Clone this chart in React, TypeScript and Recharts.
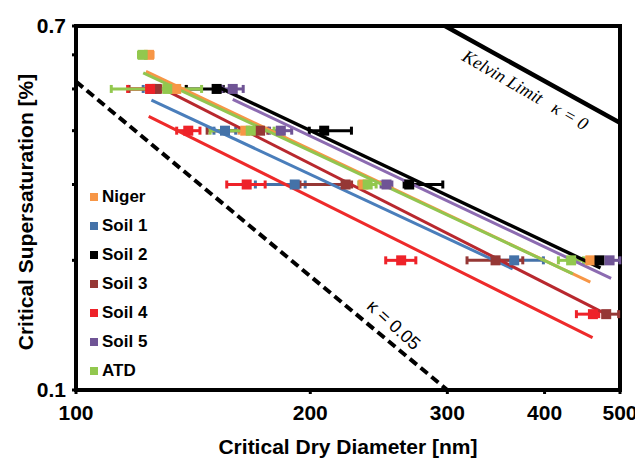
import React from 'react';
import {
  ComposedChart, Scatter, XAxis, YAxis, ErrorBar, ReferenceArea, ReferenceDot, Label,
} from 'recharts';

type Pt = { x: number; y: number; e: [number, number] };

const X_TICKS = [100, 200, 300, 400, 500];
const Y_TICKS = [0.1, 0.2, 0.3, 0.4, 0.5, 0.6, 0.7];
const Y_LABELED = [0.1, 0.7];

const niger: Pt[] = [
  { x: 124.1, y: 0.6, e: [1.5, 1.5] },
  { x: 134.5, y: 0.5, e: [4, 4] },
  { x: 165, y: 0.4, e: [3, 3] },
  { x: 234, y: 0.3, e: [3, 3] },
  { x: 458, y: 0.2, e: [5, 5] },
];
const soil1: Pt[] = [
  { x: 125, y: 0.5, e: [3, 3] },
  { x: 155.4, y: 0.4, e: [5, 5] },
  { x: 191, y: 0.3, e: [21, 6] },
  { x: 365.6, y: 0.2, e: [20, 33] },
];
const soil2: Pt[] = [
  { x: 151.6, y: 0.5, e: [13, 3] },
  { x: 208.4, y: 0.4, e: [9, 17.5] },
  { x: 268, y: 0.3, e: [4, 28] },
  { x: 470.6, y: 0.2, e: [4, 4] },
];
const soil3: Pt[] = [
  { x: 127, y: 0.5, e: [10, 4] },
  { x: 172.4, y: 0.4, e: [25, 4] },
  { x: 222, y: 0.3, e: [28, 4] },
  { x: 346, y: 0.2, e: [28, 29] },
  { x: 480, y: 0.15, e: [4, 18] },
];
const soil4: Pt[] = [
  { x: 124.5, y: 0.5, e: [8, 4] },
  { x: 139.4, y: 0.4, e: [4.7, 4.9] },
  { x: 165.7, y: 0.3, e: [9.5, 9.3] },
  { x: 261.7, y: 0.2, e: [11.7, 11.6] },
  { x: 461.5, y: 0.15, e: [22, 8] },
];
const soil5: Pt[] = [
  { x: 159, y: 0.5, e: [5, 5] },
  { x: 183.3, y: 0.4, e: [6, 6] },
  { x: 250.6, y: 0.3, e: [4, 4] },
  { x: 484.8, y: 0.2, e: [4, 15] },
];
const atd: Pt[] = [
  { x: 121.8, y: 0.6, e: [1.5, 1.5] },
  { x: 131, y: 0.5, e: [20, 14] },
  { x: 167.7, y: 0.4, e: [19, 12] },
  { x: 237, y: 0.3, e: [6, 6] },
  { x: 432.7, y: 0.2, e: [16, 16] },
];

// fitted kappa lines: [start, end]
const nigerFit = [{ x: 123, y: 0.549 }, { x: 458, y: 0.178 }];
const soil1Fit = [{ x: 125, y: 0.471 }, { x: 364, y: 0.191 }];
const soil2Fit = [{ x: 151, y: 0.509 }, { x: 472, y: 0.192 }];
const soil3Fit = [{ x: 130, y: 0.498 }, { x: 480, y: 0.15 }];
const soil4Fit = [{ x: 124, y: 0.432 }, { x: 461, y: 0.1323 }];
const soil5Fit = [{ x: 159, y: 0.473 }, { x: 487, y: 0.1816 }];
const atdFit = [{ x: 122, y: 0.545 }, { x: 435, y: 0.186 }];

const kelvinLine = [{ x: 298, y: 0.7 }, { x: 500, y: 0.417 }];
const kappa005Line = [{ x: 100, y: 0.52 }, { x: 300, y: 0.1 }];

const SERIES = [
  { name: 'Niger', data: niger, fit: nigerFit, color: '#F79646', line: '#F79646' },
  { name: 'Soil 1', data: soil1, fit: soil1Fit, color: '#4472A8', line: '#4A7EBB' },
  { name: 'Soil 2', data: soil2, fit: soil2Fit, color: '#000000', line: '#000000' },
  { name: 'Soil 3', data: soil3, fit: soil3Fit, color: '#953735', line: '#B8282E' },
  { name: 'Soil 4', data: soil4, fit: soil4Fit, color: '#EE2229', line: '#EE2A2A' },
  { name: 'Soil 5', data: soil5, fit: soil5Fit, color: '#6F5495', line: '#8C6BB1' },
  { name: 'ATD', data: atd, fit: atdFit, color: '#92C84E', line: '#92C550' },
];

const FONT = '"Liberation Sans", Arial, sans-serif';

const squareShape = (color: string) => (props: any) => (
  <rect x={props.cx - 5} y={props.cy - 5} width={10} height={10} fill={color} />
);
const noShape = () => <g />;

const LegendBox = () => (
  <div style={{ position: 'absolute', left: 82, top: 174, fontFamily: FONT, fontWeight: 'bold', fontSize: 17 }}>
    {SERIES.map((s) => (
      <div key={s.name} style={{ height: 29, display: 'flex', alignItems: 'center' }}>
        <span style={{ display: 'inline-block', width: 8, height: 8, background: s.color, marginRight: 4 }} />
        <span style={{ color: '#000' }}>{s.name}</span>
      </div>
    ))}
  </div>
);

const rotatedText = (text: string, angle: number, style: any) => (props: any) => {
  const vb = props.viewBox || {};
  const cx = vb.x + (vb.width || 0) / 2;
  const cy = vb.y + (vb.height || 0) / 2;
  return (
    <text
      x={cx}
      y={cy}
      textAnchor="middle"
      dominantBaseline="central"
      transform={`rotate(${angle}, ${cx}, ${cy})`}
      style={{ whiteSpace: 'pre', ...style }}
    >
      {text}
    </text>
  );
};

const XTitle = (props: any) => {
  const vb = props.viewBox;
  const cx = vb.x + vb.width / 2;
  return (
    <text x={cx} y={438} textAnchor="middle" dominantBaseline="central"
      style={{ fontFamily: FONT, fontWeight: 'bold', fontSize: 21, fill: '#000' }}>
      Critical Dry Diameter [nm]
    </text>
  );
};

const YTitle = (props: any) => {
  const vb = props.viewBox;
  const cy = vb.y + vb.height / 2 + 4;
  const cx = 17;
  return (
    <text x={cx} y={cy} textAnchor="middle" dominantBaseline="central"
      transform={`rotate(-90, ${cx}, ${cy})`}
      style={{ fontFamily: FONT, fontWeight: 'bold', fontSize: 21, fill: '#000' }}>
      Critical Supersaturation [%]
    </text>
  );
};

export default function App() {
  return (
    <div style={{ width: 635, height: 454, position: 'relative' }}>
      <ComposedChart width={635} height={454} margin={{ top: 18, right: 23, left: 0, bottom: 0 }}>
        <XAxis
          type="number"
          dataKey="x"
          scale="log"
          domain={[100, 500]}
          ticks={X_TICKS}
          allowDataOverflow
          height={72}
          axisLine={{ stroke: '#000', strokeWidth: 4 }}
          tickLine={{ stroke: '#000', strokeWidth: 3 }}
          tickSize={4}
          tickMargin={11}
          tick={{ fontFamily: FONT, fontWeight: 'bold', fontSize: 21, fill: '#000' }}
        >
          <Label content={XTitle} />
        </XAxis>
        <YAxis
          type="number"
          dataKey="y"
          scale="log"
          domain={[0.1, 0.7]}
          ticks={Y_TICKS}
          allowDataOverflow
          width={68}
          axisLine={{ stroke: '#000', strokeWidth: 4 }}
          tickLine={{ stroke: '#000', strokeWidth: 3 }}
          tickSize={4}
          tickMargin={6}
          tickFormatter={(v: number) => (Y_LABELED.includes(v) ? String(v) : '')}
          tick={{ fontFamily: FONT, fontWeight: 'bold', fontSize: 21, fill: '#000' }}
        >
          <Label content={YTitle} />
        </YAxis>
        <ReferenceArea x1={100} x2={500} y1={0.1} y2={0.7} fill="none" stroke="#000" strokeWidth={4} ifOverflow="visible" />

        <Scatter data={kelvinLine} line={{ stroke: '#000', strokeWidth: 4.5 }} shape={noShape} legendType="none" isAnimationActive={false} />
        <Scatter data={kappa005Line} line={{ stroke: '#000', strokeWidth: 4, strokeDasharray: '9 5' }} shape={noShape} legendType="none" isAnimationActive={false} />

        {SERIES.map((s) => (
          <Scatter key={s.name + '-fit'} data={s.fit} line={{ stroke: s.line, strokeWidth: s.name === 'Soil 2' ? 3.5 : 3 }} shape={noShape} legendType="none" isAnimationActive={false} />
        ))}

        {SERIES.map((s) => (
          <Scatter key={s.name} name={s.name} data={s.data} fill={s.color} shape={squareShape(s.color)} isAnimationActive={false}>
            <ErrorBar dataKey="e" direction="x" width={4} strokeWidth={3} stroke={s.color} />
          </Scatter>
        ))}

        <ReferenceDot x={378} y={0.497} r={0} fill="none" stroke="none" ifOverflow="visible"
          label={rotatedText('Kelvin Limit   \u03BA = 0', 30, { fontFamily: '"Liberation Serif", serif', fontStyle: 'italic', fontSize: 18, fill: '#000' })} />
        <ReferenceDot x={256} y={0.1416} r={0} fill="none" stroke="none" ifOverflow="visible"
          label={rotatedText('\u03BA = 0.05', 42, { fontFamily: FONT, fontSize: 18, fill: '#000' })} />
      </ComposedChart>
      <LegendBox />
    </div>
  );
}
